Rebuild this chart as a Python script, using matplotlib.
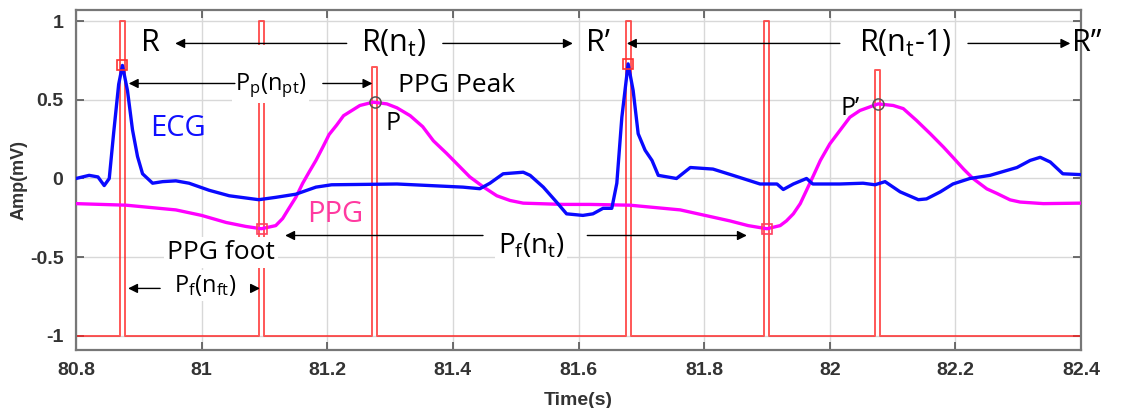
import matplotlib
matplotlib.use("Agg")
import matplotlib.pyplot as plt
import numpy as np

# ECG trace (s, mV)
ecg_t = [80.800, 80.821, 80.835, 80.845, 80.853, 80.860, 80.868, 80.874, 80.882, 80.890,
         80.898, 80.906, 80.922, 80.938, 80.959, 80.980, 81.012, 81.044, 81.091, 81.118,
         81.150, 81.182, 81.207, 81.311, 81.416, 81.443, 81.459, 81.480, 81.512, 81.523,
         81.544, 81.565, 81.581, 81.607, 81.623, 81.639, 81.653, 81.661, 81.669, 81.679,
         81.687, 81.695, 81.706, 81.717, 81.727, 81.756, 81.778, 81.814, 81.846, 81.889,
         81.916, 81.926, 81.942, 81.963, 81.973, 82.016, 82.053, 82.072, 82.088, 82.112,
         82.141, 82.154, 82.176, 82.196, 82.223, 82.255, 82.298, 82.319, 82.335, 82.351,
         82.371, 82.398]
ecg_v = [0.0, 0.02, 0.01, -0.045, 0.0, 0.29, 0.6, 0.72, 0.56, 0.31,
         0.14, 0.03, -0.03, -0.02, -0.015, -0.03, -0.075, -0.11, -0.135, -0.12,
         -0.10, -0.055, -0.04, -0.035, -0.055, -0.065, -0.03, 0.03, 0.04, 0.02,
         -0.055, -0.15, -0.225, -0.235, -0.225, -0.19, -0.19, -0.03, 0.39, 0.73,
         0.56, 0.285, 0.18, 0.115, 0.02, 0.0, 0.07, 0.06, 0.02, -0.035,
         -0.035, -0.07, -0.035, 0.0, -0.035, -0.035, -0.03, -0.04, -0.02, -0.085,
         -0.135, -0.13, -0.085, -0.035, 0.0, 0.02, 0.07, 0.115, 0.135, 0.105,
         0.03, 0.025]

# PPG trace
ppg_t = [80.800, 80.880, 80.959, 81.000, 81.039, 81.070, 81.095, 81.118, 81.129, 81.139,
         81.150, 81.161, 81.171, 81.182, 81.193, 81.203, 81.215, 81.226, 81.252, 81.273,
         81.295, 81.311, 81.332, 81.352, 81.369, 81.390, 81.409, 81.427, 81.449, 81.470,
         81.491, 81.512, 81.575, 81.618, 81.682, 81.762, 81.841, 81.870, 81.900, 81.921,
         81.931, 81.942, 81.953, 81.963, 81.973, 81.985, 82.000, 82.016, 82.032, 82.048,
         82.077, 82.101, 82.117, 82.138, 82.160, 82.181, 82.196, 82.213, 82.228, 82.250,
         82.266, 82.287, 82.303, 82.340, 82.398]
ppg_v = [-0.16, -0.17, -0.20, -0.235, -0.28, -0.305, -0.32, -0.30, -0.255, -0.19,
         -0.12, -0.03, 0.04, 0.115, 0.20, 0.28, 0.34, 0.40, 0.465, 0.486,
         0.475, 0.45, 0.40, 0.33, 0.24, 0.16, 0.083, 0.01, -0.055, -0.11,
         -0.14, -0.157, -0.165, -0.165, -0.17, -0.20, -0.27, -0.30, -0.32, -0.30,
         -0.27, -0.225, -0.16, -0.075, 0.01, 0.115, 0.22, 0.305, 0.39, 0.433,
         0.475, 0.465, 0.445, 0.37, 0.285, 0.2, 0.135, 0.06, 0.0, -0.066,
         -0.095, -0.136, -0.15, -0.16, -0.157]

# detected fiducial points
r_t = [80.874, 81.679]
r_v = [0.72, 0.73]
foot_t = [81.096, 81.900]
foot_v = [-0.32, -0.32]
peak_t = [81.276, 82.076]
peak_v = [0.486, 0.475]

# marker pulse train (position, height)
pulse_t = [80.874, 81.096, 81.276, 81.679, 81.900, 82.076]
pulse_h = [1.0, 1.0, 0.71, 1.0, 1.0, 0.69]

xticks = [80.8, 81, 81.2, 81.4, 81.6, 81.8, 82, 82.2, 82.4]
xtick_labels = ["80.8", "81", "81.2", "81.4", "81.6", "81.8", "82", "82.2", "82.4"]
yticks = [-1, -0.5, 0, 0.5, 1]
ytick_labels = ["-1", "-0.5", "0", "0.5", "1"]

plt.rcParams["font.family"] = ["Open Sans", "DejaVu Sans"]
plt.rcParams["mathtext.default"] = "regular"

fig = plt.figure(figsize=(11.22, 4.08), dpi=100)
ax = fig.add_axes([0.0677, 0.1422, 0.8958, 0.8333])

# pulse train built from pulse positions
w = 0.004
px, py = [80.8], [-1]
for t, h in zip(pulse_t, pulse_h):
    px += [t - w, t - w, t + w, t + w]
    py += [-1, h, h, -1]
px.append(82.4)
py.append(-1)
ax.plot(px, py, color="#ff2020", lw=1.4, alpha=0.75, zorder=2)

ax.plot(ppg_t, ppg_v, color="#ff00ff", lw=2.4, zorder=3)
ax.plot(ecg_t, ecg_v, color="#0a0aff", lw=2.4, zorder=3)

ax.plot(r_t, r_v, ls="none", marker="s", ms=7, mfc="none", mec="#ff3030", mew=1.2, zorder=4)
ax.plot(foot_t, foot_v, ls="none", marker="s", ms=7, mfc="none", mec="#ff4060", mew=1.2, zorder=4)
ax.plot(peak_t, peak_v, ls="none", marker="o", ms=8, mfc="none", mec="#555555", mew=1.1, zorder=4)

ax.set_xlim(80.8, 82.4)
ax.set_ylim(-1.092, 1.073)
ax.set_xticks(xticks)
ax.set_xticklabels(xtick_labels)
ax.set_yticks(yticks)
ax.set_yticklabels(ytick_labels)
ax.grid(True, color="#d8d8d8", lw=1.0, zorder=0)
ax.set_axisbelow(True)
ax.tick_params(direction="in", length=6, width=1.2, top=True, right=True,
               colors="#555555", labelcolor="#333333", pad=9)
for lab in ax.get_xticklabels() + ax.get_yticklabels():
    lab.set_family("Liberation Sans")
    lab.set_fontweight("bold")
    lab.set_fontsize(14)
for s in ax.spines.values():
    s.set_color("#777777")
    s.set_linewidth(1.6)
ax.set_xlabel("Time(s)", family="Liberation Sans", fontweight="bold", fontsize=14,
              color="#333333", labelpad=9)
ax.set_ylabel("Amp(mV)", family="Liberation Sans", fontweight="bold", fontsize=13,
              color="#333333", labelpad=2)

box = dict(facecolor="white", edgecolor="none", pad=2)
big = 22


def arrow(x0, x1, y):
    ax.annotate("", xy=(x1, y), xytext=(x0, y),
                arrowprops=dict(arrowstyle="-|>", color="black", lw=1.0,
                                mutation_scale=14, shrinkA=0, shrinkB=0), zorder=6)


# R-R intervals
ax.text(80.918, 0.86, "R", fontsize=big, ha="center", va="center", zorder=7)
ax.text(81.305, 0.86, "$R(n_t)$", fontsize=big, ha="center", va="center", bbox=box, zorder=7)
arrow(81.231, 80.958, 0.86)
arrow(81.384, 81.591, 0.86)
ax.text(81.631, 0.86, "R’", fontsize=big, ha="center", va="center", zorder=7)
ax.text(82.12, 0.86, "$R(n_t$-1)", fontsize=big, ha="center", va="center", bbox=box, zorder=7)
arrow(82.016, 81.677, 0.86)
arrow(82.22, 82.383, 0.86)
ax.text(82.386, 0.86, "R”", fontsize=big, ha="left", va="center", zorder=7,
        clip_on=False)

# PPG peak distance (blank first line gives the tall white box)
ax.text(81.110, 0.68, "\n$P_p(n_{pt})$", fontsize=17, ha="center", va="center",
        bbox=box, zorder=5)
arrow(81.053, 80.884, 0.605)
arrow(81.193, 81.272, 0.605)
ax.text(81.313, 0.59, "PPG Peak", fontsize=19, ha="left", va="center", zorder=7)
ax.text(81.292, 0.35, "P", fontsize=18, ha="left", va="center", zorder=7)
ax.text(82.048, 0.446, "P’", fontsize=18, ha="right", va="center", zorder=7)

ax.text(80.962, 0.32, "ECG", fontsize=21, color="#1010ff", ha="center", va="center", zorder=7)
ax.text(81.212, -0.23, "PPG", fontsize=21, color="#ff3aa0", ha="center", va="center", zorder=7)

# PPG foot distance
ax.text(81.031, -0.47, "PPG foot", fontsize=19, ha="center", va="center", bbox=box, zorder=7)
ax.text(81.525, -0.43, "$P_f(n_t)$", fontsize=20, ha="center", va="center", bbox=box, zorder=5)
arrow(81.448, 81.133, -0.363)
arrow(81.614, 81.868, -0.363)
ax.text(81.006, -0.68, "$P_f(n_{ft})$", fontsize=17, ha="center", va="center", bbox=box, zorder=7)
arrow(80.934, 80.883, -0.70)
arrow(81.078, 81.093, -0.70)

fig.savefig("out.png", dpi=100)
